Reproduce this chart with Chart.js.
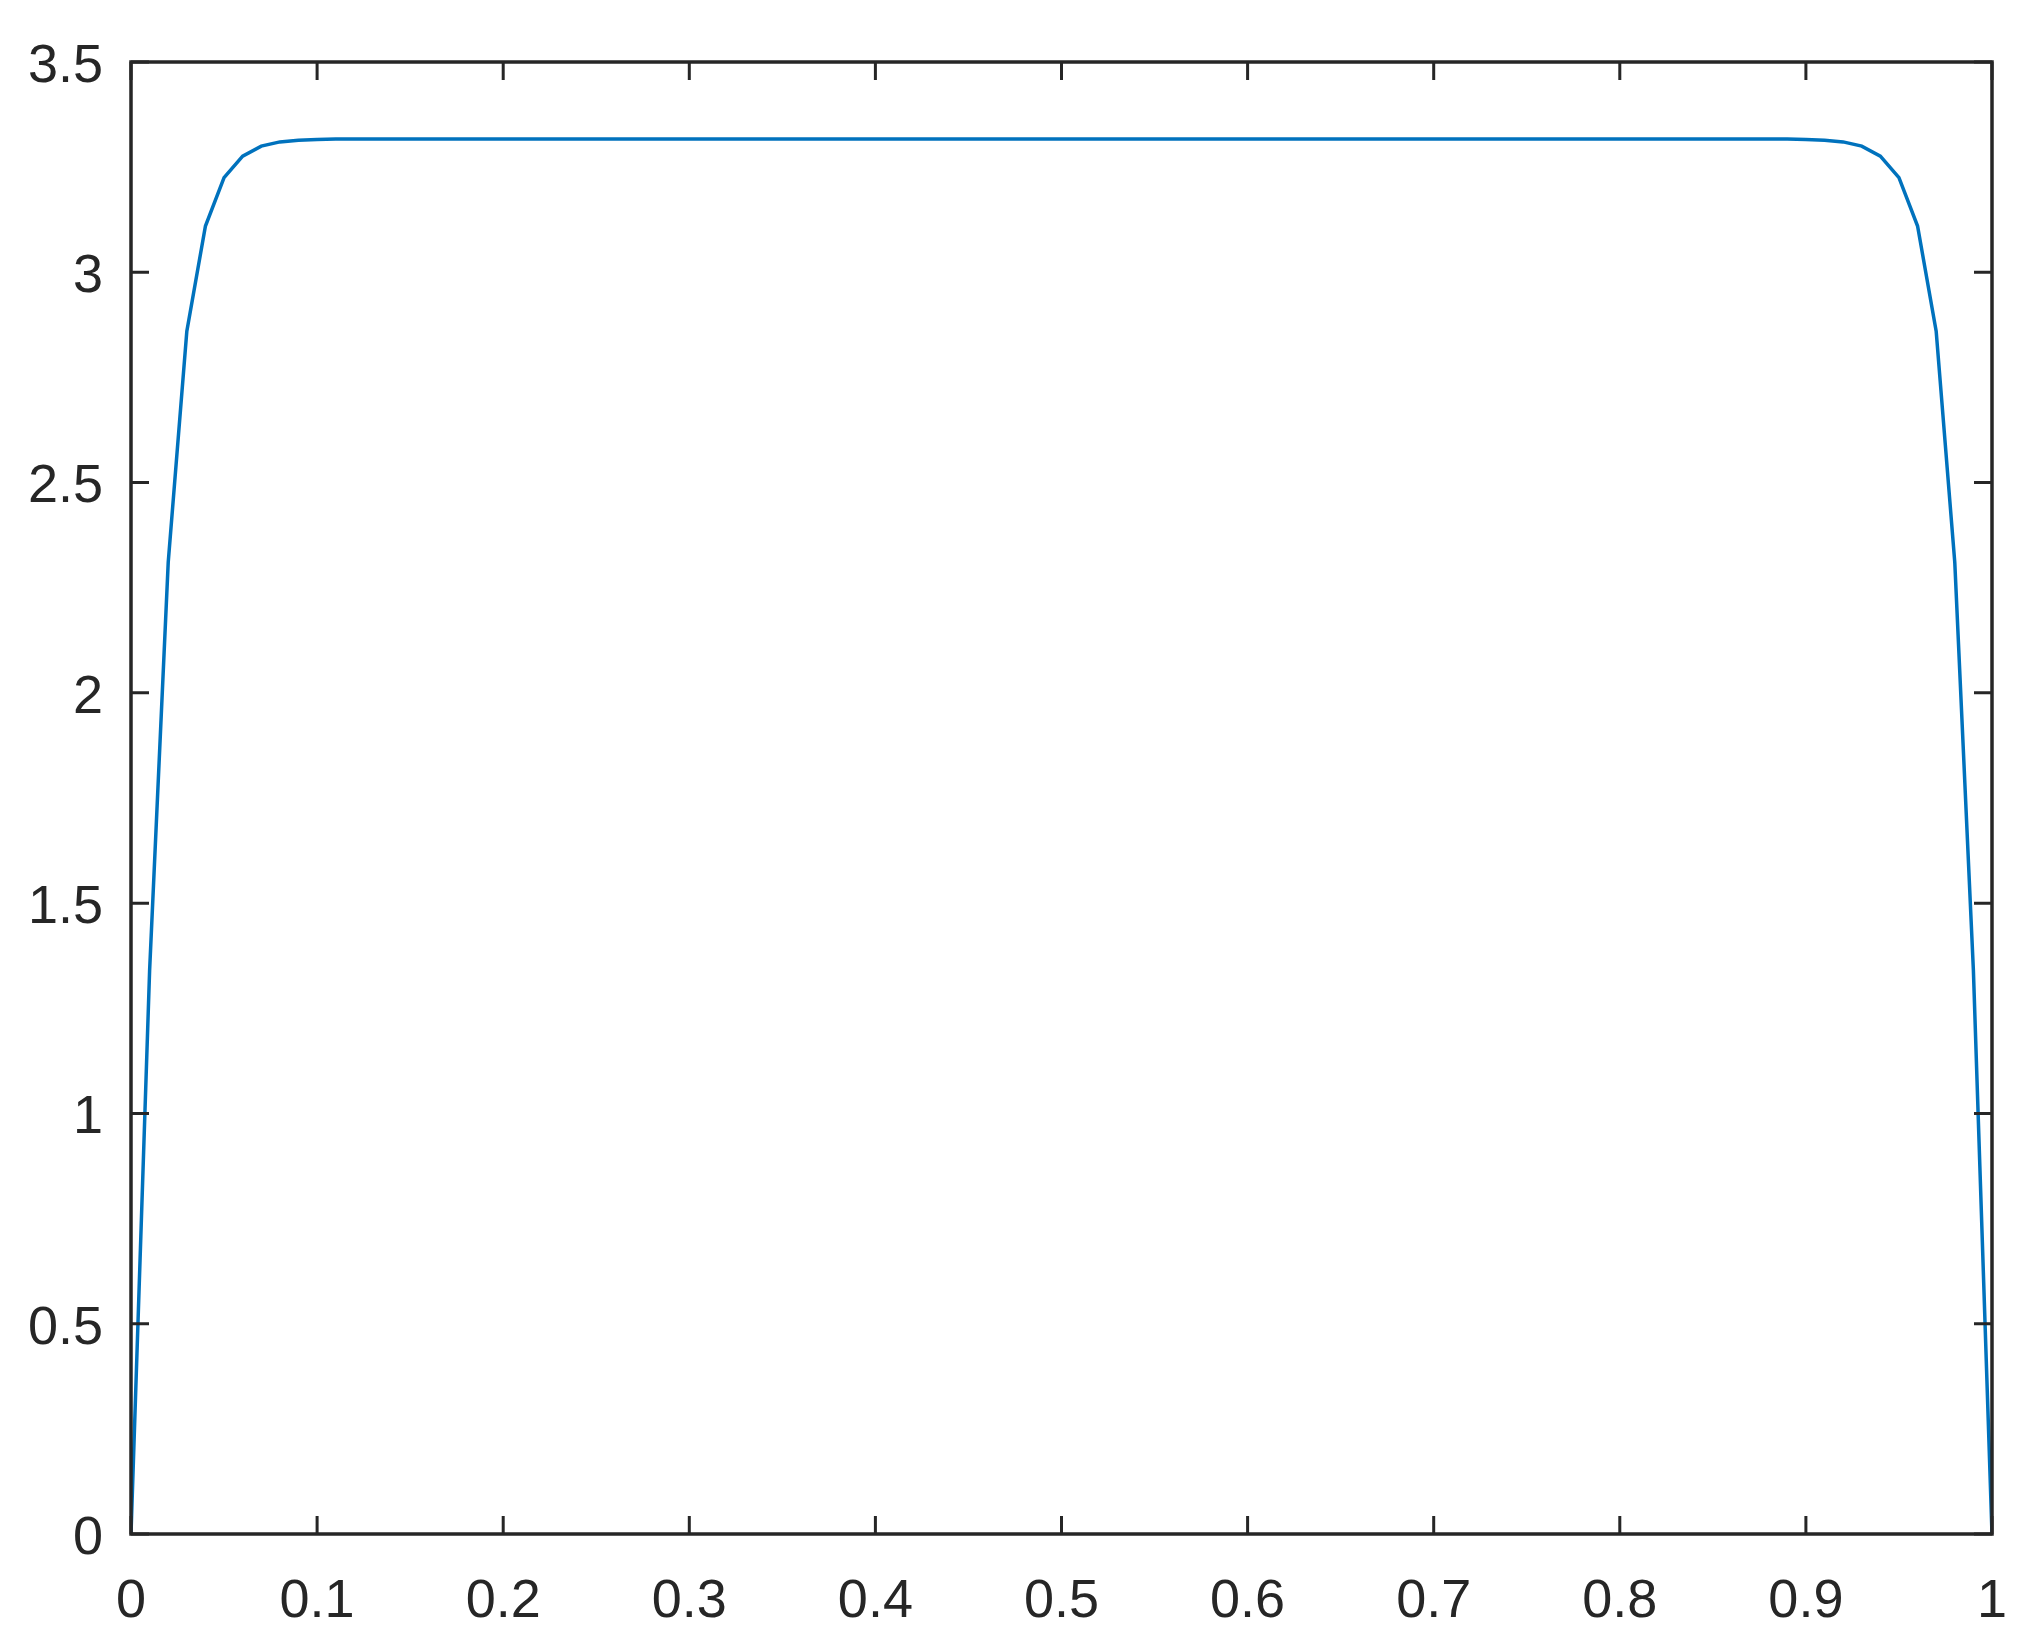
<!DOCTYPE html>
<html>
<head>
<meta charset="utf-8">
<script src="https://cdn.jsdelivr.net/npm/chart.js@4/dist/chart.umd.min.js"></script>
<style>
  body { margin: 0; background: #fff; }
  .wrap { width: 2033px; height: 1637px; position: relative; }
</style>
</head>
<body>
<div class="wrap"><canvas id="chart"></canvas></div>
<script>
// x positions of the samples
const xs = [
  0, 0.01, 0.02, 0.03, 0.04, 0.05, 0.06, 0.07, 0.08, 0.09,
  0.1, 0.11, 0.12, 0.13, 0.14, 0.15, 0.16, 0.17, 0.18, 0.19,
  0.2, 0.21, 0.22, 0.23, 0.24, 0.25, 0.26, 0.27, 0.28, 0.29,
  0.3, 0.31, 0.32, 0.33, 0.34, 0.35, 0.36, 0.37, 0.38, 0.39,
  0.4, 0.41, 0.42, 0.43, 0.44, 0.45, 0.46, 0.47, 0.48, 0.49,
  0.5, 0.51, 0.52, 0.53, 0.54, 0.55, 0.56, 0.57, 0.58, 0.59,
  0.6, 0.61, 0.62, 0.63, 0.64, 0.65, 0.66, 0.67, 0.68, 0.69,
  0.7, 0.71, 0.72, 0.73, 0.74, 0.75, 0.76, 0.77, 0.78, 0.79,
  0.8, 0.81, 0.82, 0.83, 0.84, 0.85, 0.86, 0.87, 0.88, 0.89,
  0.9, 0.91, 0.92, 0.93, 0.94, 0.95, 0.96, 0.97, 0.98, 0.99,
  1
];
// values
const ys = [
  0, 1.34, 2.31, 2.86, 3.11, 3.225, 3.276, 3.3, 3.31, 3.314,
  3.316, 3.317, 3.317, 3.317, 3.317, 3.317, 3.317, 3.317, 3.317, 3.317,
  3.317, 3.317, 3.317, 3.317, 3.317, 3.317, 3.317, 3.317, 3.317, 3.317,
  3.317, 3.317, 3.317, 3.317, 3.317, 3.317, 3.317, 3.317, 3.317, 3.317,
  3.317, 3.317, 3.317, 3.317, 3.317, 3.317, 3.317, 3.317, 3.317, 3.317,
  3.317, 3.317, 3.317, 3.317, 3.317, 3.317, 3.317, 3.317, 3.317, 3.317,
  3.317, 3.317, 3.317, 3.317, 3.317, 3.317, 3.317, 3.317, 3.317, 3.317,
  3.317, 3.317, 3.317, 3.317, 3.317, 3.317, 3.317, 3.317, 3.317, 3.317,
  3.317, 3.317, 3.317, 3.317, 3.317, 3.317, 3.317, 3.317, 3.317, 3.317,
  3.316, 3.314, 3.31, 3.3, 3.276, 3.225, 3.11, 2.86, 2.31, 1.34,
  0
];
const xTicks = [0, 0.1, 0.2, 0.3, 0.4, 0.5, 0.6, 0.7, 0.8, 0.9, 1];
const xTickLabels = ['0', '0.1', '0.2', '0.3', '0.4', '0.5', '0.6', '0.7', '0.8', '0.9', '1'];
const yTicks = [0, 0.5, 1, 1.5, 2, 2.5, 3, 3.5];
const yTickLabels = ['0', '0.5', '1', '1.5', '2', '2.5', '3', '3.5'];

const axisColor = '#262626';
const lineColor = '#0072BD';
const font = { family: '"Liberation Sans", Arial, Helvetica, sans-serif', size: 54 };

// box round the plot with inward tick marks on all four sides
const boxPlugin = {
  id: 'box',
  afterDraw(chart) {
    const ctx = chart.ctx;
    const a = chart.chartArea;
    const x = chart.scales.x;
    const y = chart.scales.y;
    const len = 18;
    ctx.save();
    ctx.strokeStyle = axisColor;
    ctx.lineWidth = 3.5;
    ctx.lineCap = 'square';
    ctx.strokeRect(a.left, a.top, a.right - a.left, a.bottom - a.top);
    ctx.lineWidth = 3;
    ctx.lineCap = 'butt';
    ctx.beginPath();
    for (const t of xTicks) {
      const px = x.getPixelForValue(t);
      ctx.moveTo(px, a.bottom);
      ctx.lineTo(px, a.bottom - len);
      ctx.moveTo(px, a.top);
      ctx.lineTo(px, a.top + len);
    }
    for (const t of yTicks) {
      const py = y.getPixelForValue(t);
      ctx.moveTo(a.left, py);
      ctx.lineTo(a.left + len, py);
      ctx.moveTo(a.right, py);
      ctx.lineTo(a.right - len, py);
    }
    ctx.stroke();
    ctx.restore();
  }
};

const data = {
  datasets: [{
    data: xs.map((v, i) => ({ x: v, y: ys[i] })),
    borderColor: lineColor,
    borderWidth: 3.5,
    pointRadius: 0,
    tension: 0,
    fill: false
  }]
};

const config = {
  type: 'line',
  data: data,
  options: {
    responsive: true,
    maintainAspectRatio: false,
    animation: false,
    layout: { padding: { top: 62, right: 41, left: 0, bottom: 0 } },
    plugins: {
      legend: { display: false },
      tooltip: { enabled: false }
    },
    scales: {
      x: {
        type: 'linear',
        min: 0,
        max: 1,
        afterBuildTicks: (scale) => { scale.ticks = xTicks.map(v => ({ value: v })); },
        afterFit: (scale) => {
          scale.height = 103;
          scale.paddingLeft = 0;
          scale.paddingRight = 0;
        },
        grid: { display: false, drawTicks: false },
        border: { display: false },
        ticks: {
          padding: 36,
          color: axisColor,
          maxRotation: 0,
          autoSkip: false,
          font: font,
          callback: (v, i) => xTickLabels[i]
        }
      },
      y: {
        type: 'linear',
        min: 0,
        max: 3.5,
        afterBuildTicks: (scale) => { scale.ticks = yTicks.map(v => ({ value: v })); },
        afterFit: (scale) => {
          scale.width = 131;
          scale.paddingTop = 0;
          scale.paddingBottom = 0;
        },
        grid: { display: false, drawTicks: false },
        border: { display: false },
        ticks: {
          padding: 28,
          labelOffset: 5,
          color: axisColor,
          autoSkip: false,
          font: font,
          callback: (v, i) => yTickLabels[i]
        }
      }
    }
  },
  plugins: [boxPlugin]
};

const chart = new Chart(document.getElementById('chart'), config);
</script>
</body>
</html>
